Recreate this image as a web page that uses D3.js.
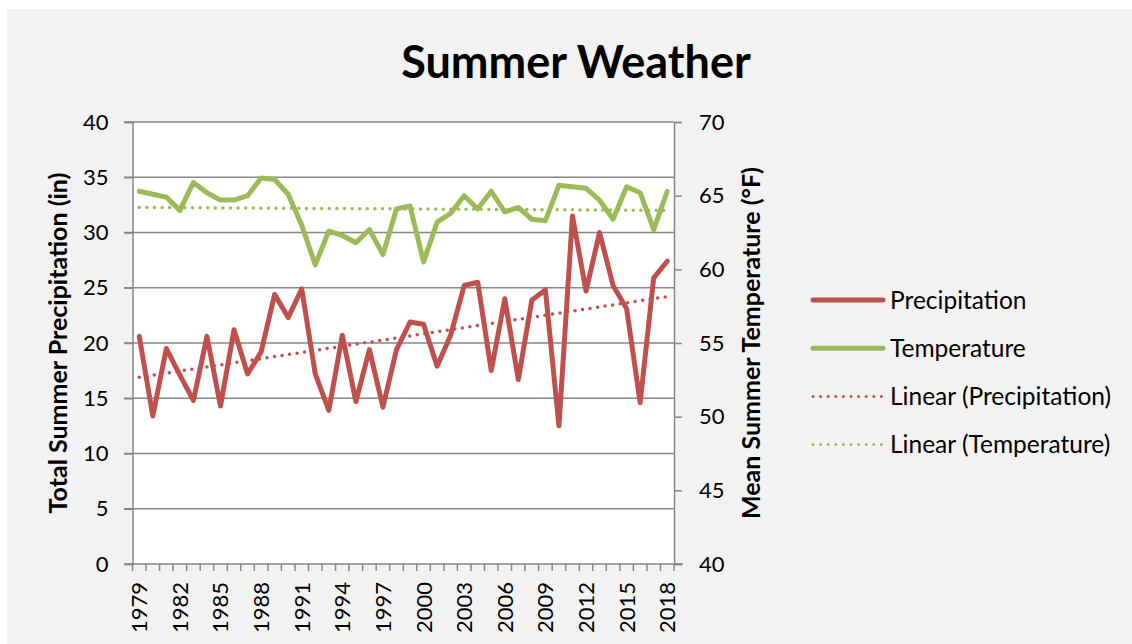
<!DOCTYPE html>
<html>
<head>
<meta charset="utf-8">
<script src="https://cdn.jsdelivr.net/npm/d3@7"></script>
<style>
  html, body { margin: 0; padding: 0; background: #fff; }
  svg { display: block; font-family: Lato, "Open Sans", sans-serif; }
</style>
</head>
<body>
<div id="chart"></div>
<script>
// Data
const years = d3.range(1979, 2019);
const precipitation = [
  20.6, 13.4, 19.5, 17.1, 14.8, 20.6, 14.3, 21.2, 17.2, 19.2,
  24.4, 22.3, 24.9, 17.2, 13.9, 20.7, 14.7, 19.4, 14.2, 19.4,
  21.9, 21.7, 17.9, 20.7, 25.2, 25.5, 17.5, 24.0, 16.7, 23.9,
  24.8, 12.5, 31.5, 24.7, 30.0, 25.2, 23.1, 14.6, 25.9, 27.4
];
const temperature = [
  65.3, 65.1, 64.9, 64.0, 65.9, 65.2, 64.7, 64.7, 65.0, 66.2,
  66.1, 65.1, 63.0, 60.3, 62.6, 62.3, 61.8, 62.7, 61.0, 64.1,
  64.3, 60.5, 63.2, 63.8, 65.0, 64.1, 65.3, 63.9, 64.2, 63.4,
  63.3, 65.7, 65.6, 65.5, 64.7, 63.4, 65.6, 65.2, 62.7, 65.3
];
// trendline end values (first year, last year)
const precipTrend = [16.9, 24.2];
const tempTrend = [64.2, 64.0];
const leftTicks = [0, 5, 10, 15, 20, 25, 30, 35, 40];
const rightTicks = [40, 45, 50, 55, 60, 65, 70];
const yearLabels = d3.range(1979, 2019, 3);

const legendItems = [
  { label: "Precipitation", color: "#c0504d", dotted: false },
  { label: "Temperature", color: "#9bbb59", dotted: false },
  { label: "Linear (Precipitation)", color: "#c0504d", dotted: true },
  { label: "Linear (Temperature)", color: "#9bbb59", dotted: true }
];

const width = 1132, height = 644;
const red = "#c0504d", green = "#9bbb59", grid = "#868686";
const tickFont = 22, legendFont = 24.5, axisTitleFont = 25;

const svg = d3.select("#chart").append("svg")
  .attr("width", width)
  .attr("height", height);

// chart area background
svg.append("rect")
  .attr("x", 7).attr("y", 9)
  .attr("width", width - 7).attr("height", height - 9)
  .attr("fill", "#f2f2f2");

const x = d3.scaleBand().domain(years).range([132.5, 674]);
const yL = d3.scaleLinear().domain([0, 40]).range([564, 122]);
const yR = d3.scaleLinear().domain([40, 70]).range([564, 122]);
const cx = d => x(d) + x.bandwidth() / 2;

// plot area
svg.append("rect")
  .attr("x", 132.5).attr("y", 122)
  .attr("width", 674 - 132.5).attr("height", 564 - 122)
  .attr("fill", "#fff");

// gridlines
svg.append("g")
  .selectAll("line")
  .data(leftTicks.slice(1))
  .join("line")
  .attr("x1", 124).attr("x2", 674)
  .attr("y1", d => yL(d)).attr("y2", d => yL(d))
  .attr("stroke", grid).attr("stroke-width", 1.5);

// left axis
const leftAxis = svg.append("g")
  .attr("transform", "translate(132.5,0)")
  .call(d3.axisLeft(yL).tickValues(leftTicks).tickSize(8).tickPadding(16));
leftAxis.select(".domain").attr("stroke", grid).attr("stroke-width", 1.5);
leftAxis.selectAll(".tick line").attr("stroke", grid).attr("stroke-width", 1.5);
leftAxis.selectAll("text").attr("font-size", tickFont).attr("fill", "#000")
  .attr("font-family", "Lato, 'Open Sans', sans-serif");

// right axis
const rightAxis = svg.append("g")
  .attr("transform", "translate(674,0)")
  .call(d3.axisRight(yR).tickValues(rightTicks).tickSize(8).tickPadding(17));
rightAxis.select(".domain").attr("stroke", grid).attr("stroke-width", 1.5);
rightAxis.selectAll(".tick line").attr("stroke", grid).attr("stroke-width", 1.5);
rightAxis.selectAll("text").attr("font-size", tickFont).attr("fill", "#000")
  .attr("font-family", "Lato, 'Open Sans', sans-serif");

// x axis
const xAxisG = svg.append("g").attr("transform", "translate(0,564)");
xAxisG.append("line")
  .attr("x1", 124).attr("x2", 683)
  .attr("stroke", grid).attr("stroke-width", 1.5);
xAxisG.selectAll(".xtick")
  .data(years.concat([2019]))
  .join("line")
  .attr("class", "xtick")
  .attr("x1", d => d === 2019 ? 674 : x(d))
  .attr("x2", d => d === 2019 ? 674 : x(d))
  .attr("y1", 0).attr("y2", 7)
  .attr("stroke", grid).attr("stroke-width", 1.5);
xAxisG.selectAll(".xlabel")
  .data(yearLabels)
  .join("text")
  .attr("class", "xlabel")
  .attr("transform", d => `translate(${cx(d) + 8},18) rotate(-90)`)
  .attr("text-anchor", "end")
  .attr("font-size", tickFont)
  .text(d => d);

// trendlines
const trendLine = (scale) => d3.line().x(d => cx(d[0])).y(d => scale(d[1]));
svg.append("path")
  .datum([[years[0], precipTrend[0]], [years[years.length - 1], precipTrend[1]]])
  .attr("d", trendLine(yL))
  .attr("fill", "none").attr("stroke", red).attr("stroke-width", 3.5)
  .attr("stroke-linecap", "round").attr("stroke-dasharray", "0 7.6");
svg.append("path")
  .datum([[years[0], tempTrend[0]], [years[years.length - 1], tempTrend[1]]])
  .attr("d", trendLine(yR))
  .attr("fill", "none").attr("stroke", green).attr("stroke-width", 3.5)
  .attr("stroke-linecap", "round").attr("stroke-dasharray", "0 7.6");

// series lines
svg.append("path")
  .datum(years.map((y, i) => [y, temperature[i]]))
  .attr("d", d3.line().x(d => cx(d[0])).y(d => yR(d[1])))
  .attr("fill", "none").attr("stroke", green).attr("stroke-width", 5)
  .attr("stroke-linejoin", "round").attr("stroke-linecap", "round");
svg.append("path")
  .datum(years.map((y, i) => [y, precipitation[i]]))
  .attr("d", d3.line().x(d => cx(d[0])).y(d => yL(d[1])))
  .attr("fill", "none").attr("stroke", red).attr("stroke-width", 5)
  .attr("stroke-linejoin", "round").attr("stroke-linecap", "round");

// title
svg.append("text")
  .attr("x", 576).attr("y", 78)
  .attr("text-anchor", "middle")
  .attr("font-size", 45).attr("font-weight", "bold")
  .text("Summer Weather");

// axis titles
svg.append("text")
  .attr("transform", "translate(67,343) rotate(-90)")
  .attr("text-anchor", "middle")
  .attr("font-size", axisTitleFont).attr("font-weight", "bold")
  .text("Total Summer Precipitation (in)");
svg.append("text")
  .attr("transform", "translate(760,343) rotate(-90)")
  .attr("text-anchor", "middle")
  .attr("font-size", axisTitleFont).attr("font-weight", "bold")
  .text("Mean Summer Temperature (°F)");

// legend
const legend = svg.append("g");
const item = legend.selectAll("g")
  .data(legendItems)
  .join("g")
  .attr("transform", (d, i) => `translate(0,${300 + i * 48.2})`);
item.append("line")
  .attr("x1", 813).attr("x2", 883)
  .attr("stroke", d => d.color)
  .attr("stroke-width", d => d.dotted ? 3 : 5)
  .attr("stroke-linecap", "round")
  .attr("stroke-dasharray", d => d.dotted ? "0 7.6" : null);
item.append("text")
  .attr("x", 890).attr("y", 0)
  .attr("dy", "0.35em")
  .attr("font-size", legendFont)
  .text(d => d.label);
</script>
</body>
</html>
